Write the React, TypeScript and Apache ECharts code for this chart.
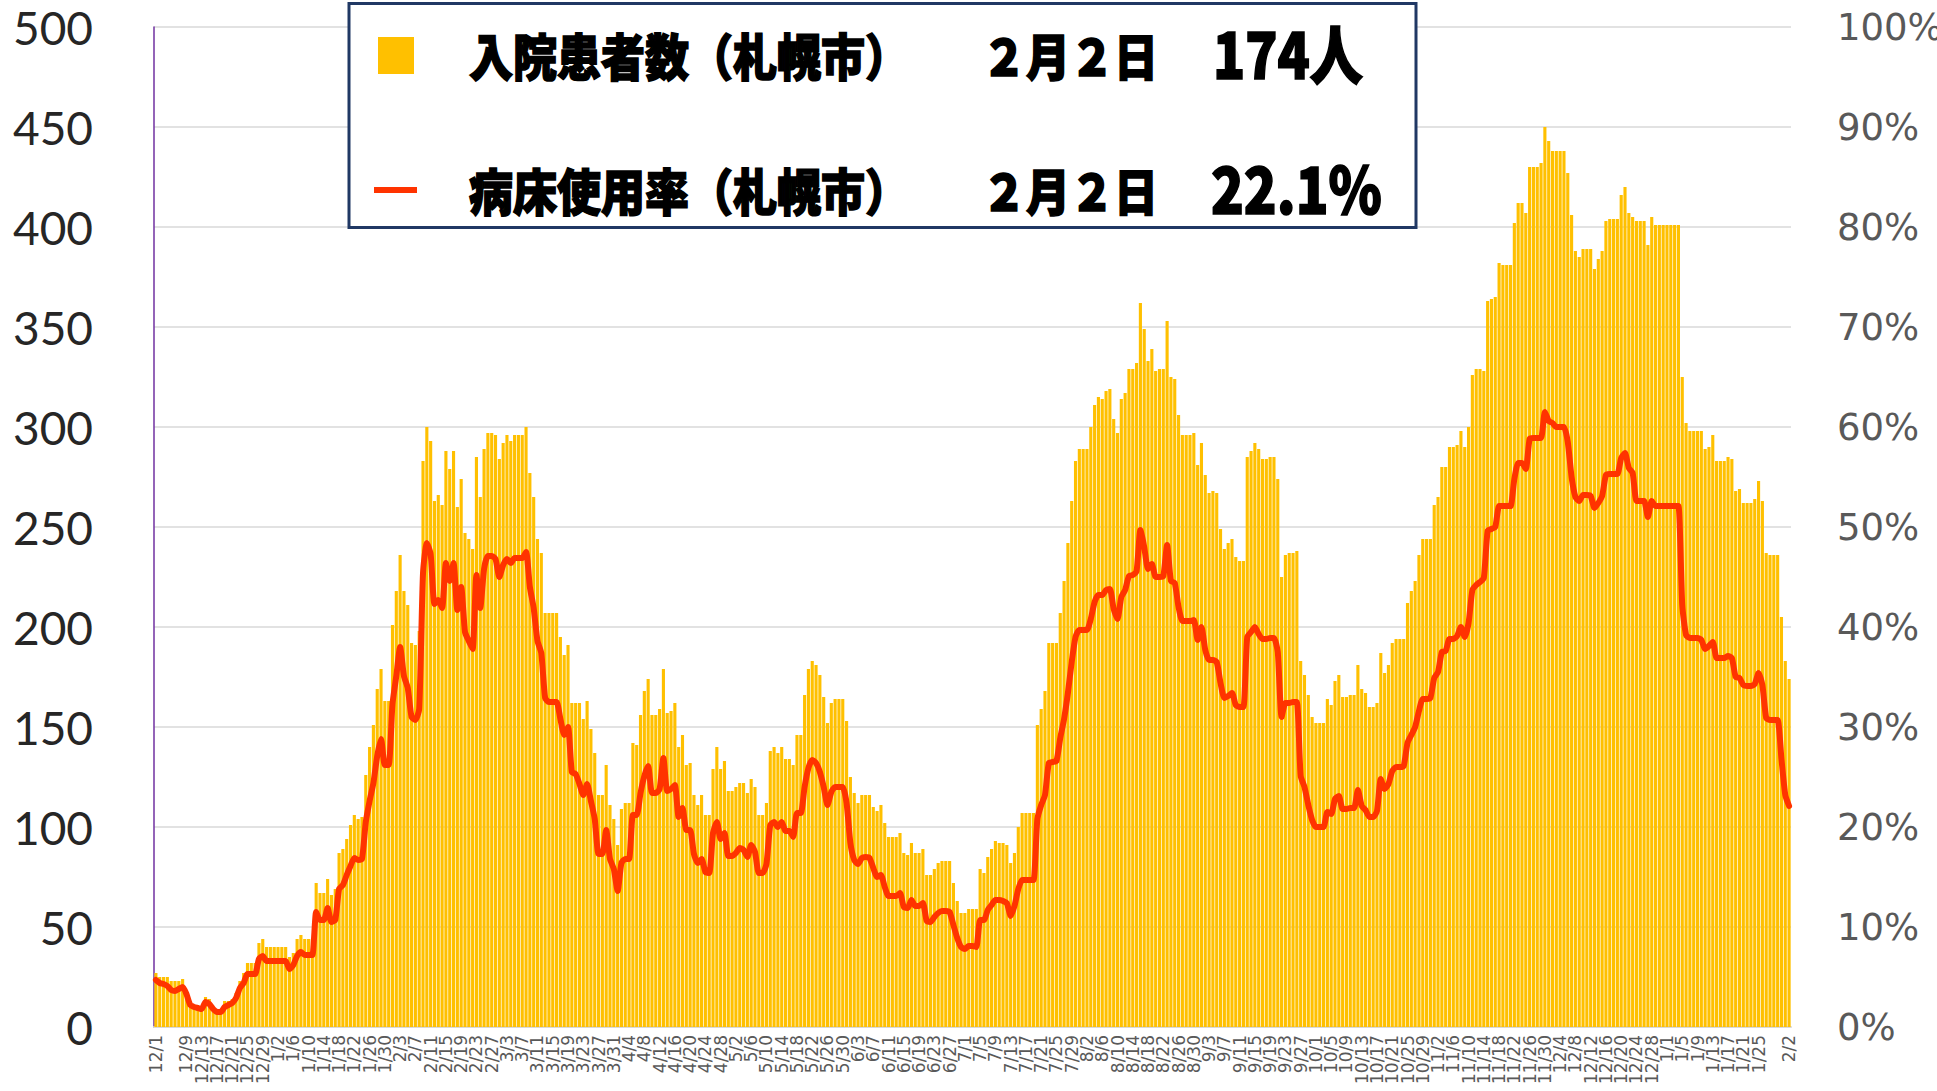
import { useEffect, useRef } from "react";
import * as echarts from "echarts";

// ---- categories: daily dates from 2020-12-01 to 2022-02-02 ----
const START_YEAR = 2020;
const START_MONTH = 12;
const START_DAY = 1;
const DAY_COUNT = 429;

function buildDates(): string[] {
  const out: string[] = [];
  const d = new Date(START_YEAR, START_MONTH - 1, START_DAY);
  for (let i = 0; i < DAY_COUNT; i++) {
    out.push(`${d.getMonth() + 1}/${d.getDate()}`);
    d.setDate(d.getDate() + 1);
  }
  return out;
}
const dates = buildDates();

// ---- 入院患者数（札幌市） ----
const patients = [
  27, 25, 25, 25, 23, 23, 23, 24, 18, 11,
  11, 10, 10, 15, 14, 8, 7, 8, 13, 13,
  14, 17, 23, 27, 32, 32, 32, 42, 44, 40,
  40, 40, 40, 40, 40, 35, 37, 44, 46, 44,
  44, 44, 72, 67, 67, 74, 66, 69, 87, 89,
  94, 101, 106, 104, 105, 126, 140, 151, 169, 179,
  163, 163, 201, 218, 236, 218, 211, 192, 191, 198,
  283, 300, 293, 263, 266, 261, 288, 279, 288, 260,
  274, 247, 244, 239, 285, 265, 289, 297, 297, 296,
  284, 292, 296, 293, 296, 296, 296, 300, 277, 265,
  244, 237, 207, 207, 207, 207, 195, 186, 191, 162,
  162, 162, 154, 163, 149, 137, 116, 116, 131, 111,
  104, 91, 109, 112, 112, 142, 141, 156, 168, 174,
  156, 156, 159, 179, 157, 158, 162, 140, 146, 131,
  132, 116, 111, 116, 106, 106, 129, 140, 129, 133,
  118, 118, 120, 122, 122, 117, 124, 120, 106, 106,
  112, 138, 140, 137, 140, 134, 134, 131, 146, 146,
  166, 179, 183, 181, 176, 165, 152, 162, 164, 164,
  164, 153, 125, 117, 112, 116, 116, 116, 110, 108,
  111, 102, 95, 95, 95, 97, 87, 86, 92, 87,
  87, 89, 76, 76, 79, 82, 83, 83, 83, 72,
  63, 57, 57, 59, 59, 59, 79, 77, 85, 89,
  93, 92, 92, 91, 82, 87, 100, 107, 107, 107,
  107, 151, 159, 168, 192, 192, 192, 207, 223, 242,
  263, 283, 289, 289, 289, 300, 311, 315, 314, 318,
  319, 304, 297, 314, 317, 329, 329, 332, 362, 349,
  333, 339, 328, 329, 329, 353, 325, 324, 306, 296,
  296, 296, 297, 281, 292, 276, 267, 268, 267, 249,
  239, 242, 244, 235, 233, 233, 285, 288, 292, 289,
  284, 284, 285, 285, 274, 225, 236, 237, 237, 238,
  183, 176, 166, 155, 152, 152, 152, 164, 161, 173,
  176, 165, 165, 166, 166, 181, 169, 167, 160, 160,
  162, 187, 177, 181, 192, 194, 194, 194, 212, 218,
  223, 236, 244, 244, 244, 261, 265, 280, 280, 290,
  290, 291, 298, 290, 300, 326, 329, 329, 328, 363,
  364, 365, 382, 381, 381, 381, 402, 412, 412, 407,
  430, 430, 430, 432, 450, 443, 438, 438, 438, 438,
  427, 406, 388, 385, 389, 389, 389, 379, 384, 388,
  403, 404, 404, 404, 416, 420, 407, 405, 403, 403,
  403, 391, 405, 401, 401, 401, 401, 401, 401, 401,
  325, 302, 298, 298, 298, 298, 289, 290, 296, 283,
  283, 283, 285, 284, 268, 269, 262, 262, 262, 264,
  273, 263, 237, 236, 236, 236, 205, 183, 174,
];

// ---- 病床使用率（札幌市） % ----
const bedRate = [
  4.7, 4.4, 4.3, 4.1, 3.7, 3.6, 3.8, 4.0, 3.3, 2.2,
  2.0, 1.9, 1.8, 2.5, 2.3, 1.8, 1.5, 1.5, 2.0, 2.2,
  2.4, 2.9, 3.9, 4.4, 5.3, 5.3, 5.3, 6.8, 7.1, 6.6,
  6.6, 6.6, 6.6, 6.6, 6.6, 5.8, 6.2, 7.1, 7.5, 7.2,
  7.2, 7.2, 11.5, 10.7, 10.7, 11.9, 10.5, 10.7, 13.8, 14.2,
  15.2, 16.1, 16.9, 16.7, 16.8, 20.5, 22.6, 24.4, 27.1, 28.8,
  26.2, 26.2, 32.3, 35.1, 38.0, 35.1, 33.9, 31.0, 30.7, 31.8,
  45.4, 48.4, 47.3, 42.3, 42.7, 41.9, 46.4, 44.6, 46.4, 41.7,
  44.0, 39.5, 38.6, 37.8, 45.2, 41.9, 45.8, 47.1, 47.1, 46.8,
  45.0, 46.2, 46.8, 46.4, 46.9, 46.9, 46.9, 47.5, 44.0, 41.9,
  38.6, 37.4, 32.9, 32.5, 32.5, 32.5, 30.8, 29.2, 30.0, 25.5,
  25.3, 24.3, 23.2, 24.3, 22.6, 20.8, 17.3, 17.3, 19.7, 16.8,
  15.8, 13.6, 16.4, 16.8, 16.8, 21.2, 21.2, 23.4, 25.1, 26.1,
  23.4, 23.4, 23.8, 26.9, 23.6, 23.8, 24.2, 21.0, 21.9, 19.7,
  19.7, 17.3, 16.4, 16.8, 15.5, 15.4, 19.4, 20.5, 18.8, 19.4,
  17.1, 17.1, 17.4, 17.9, 17.7, 17.0, 18.2, 17.5, 15.4, 15.4,
  16.3, 20.2, 20.5, 20.0, 20.5, 19.6, 19.6, 19.0, 21.4, 21.4,
  24.0, 25.9, 26.7, 26.4, 25.5, 24.0, 22.2, 23.5, 24.0, 24.0,
  24.0, 22.4, 18.4, 16.7, 16.3, 16.9, 17.0, 16.9, 15.9, 15.0,
  15.2, 14.0, 13.1, 13.1, 13.1, 13.4, 12.0, 11.9, 12.7, 12.1,
  12.1, 12.4, 10.6, 10.5, 11.0, 11.4, 11.6, 11.6, 11.5, 10.2,
  8.9, 8.0, 7.8, 8.1, 8.1, 8.0, 10.7, 10.7, 11.7, 12.2,
  12.7, 12.7, 12.6, 12.4, 11.1, 12.1, 13.8, 14.7, 14.7, 14.7,
  14.7, 20.8, 22.2, 23.2, 26.4, 26.5, 26.6, 28.9, 30.8, 33.4,
  36.5, 39.0, 39.7, 39.7, 39.7, 40.8, 42.5, 43.2, 43.2, 43.7,
  43.8, 41.8, 40.8, 43.0, 43.7, 45.1, 45.2, 45.6, 49.7, 48.0,
  45.8, 46.3, 45.0, 45.0, 45.1, 48.2, 44.6, 44.4, 42.0, 40.6,
  40.6, 40.6, 40.7, 38.7, 40.0, 37.7, 36.7, 36.7, 36.5, 34.4,
  32.9, 33.1, 33.4, 32.2, 32.0, 32.0, 39.0, 39.5, 40.0, 39.3,
  38.8, 38.8, 38.9, 38.9, 37.5, 31.0, 32.4, 32.4, 32.5, 32.5,
  25.1, 24.0, 22.2, 20.7, 20.0, 20.0, 20.0, 21.5, 21.3, 22.8,
  23.1, 21.8, 21.8, 21.9, 21.9, 23.7, 22.1, 21.7, 21.0, 21.0,
  21.6, 24.8, 23.8, 24.3, 25.6, 26.0, 26.0, 26.1, 28.4, 29.2,
  30.0, 31.6, 32.8, 32.8, 32.9, 34.9, 35.5, 37.5, 37.6, 38.8,
  38.8, 39.1, 40.0, 39.0, 40.4, 43.7, 44.2, 44.5, 44.9, 49.6,
  49.8, 50.0, 52.1, 52.1, 52.1, 52.1, 54.8, 56.4, 56.4, 55.8,
  58.8, 58.9, 58.9, 58.9, 61.5, 60.6, 60.4, 60.0, 60.0, 60.0,
  58.5, 55.0, 53.0, 52.6, 53.2, 53.2, 53.1, 51.9, 52.4, 53.1,
  55.2, 55.3, 55.3, 55.3, 56.9, 57.4, 55.9, 55.4, 52.6, 52.6,
  52.6, 51.0, 52.6, 52.1, 52.1, 52.1, 52.1, 52.1, 52.1, 52.1,
  42.2, 39.2, 38.9, 38.9, 38.9, 38.7, 37.8, 38.1, 38.5, 36.9,
  36.9, 36.9, 37.1, 36.9, 35.0, 34.9, 34.2, 34.1, 34.1, 34.3,
  35.4, 34.2, 30.9, 30.7, 30.7, 30.7, 26.8, 23.2, 22.1,
];

// ---- legend texts ----
const LEGEND_PATIENTS = "入院患者数（札幌市）";
const LEGEND_RATE = "病床使用率（札幌市）";
const LEGEND_DATE = "２月２日";
const LEGEND_PATIENTS_VALUE = "174人";
const LEGEND_RATE_VALUE = "22.1%";

const BAR_COLOR = "#ffc000";
const LINE_COLOR = "#ff3300";
const JP_FONT = '"Noto Sans CJK JP", "Noto Sans CJK SC", sans-serif';

export default function App() {
  const ref = useRef<HTMLDivElement>(null);

  useEffect(() => {
    if (!ref.current) return;
    const chart = echarts.init(ref.current, undefined, { renderer: "svg" });

    const legendText = (text: string, x: number, y: number, size: number, sy: number) => ({
      type: "text",
      x,
      y,
      scaleY: sy,
      z: 102,
      style: {
        text,
        x: 0,
        y: 0,
        font: `900 ${size}px ${JP_FONT}`,
        fill: "#000000",
        stroke: "#000000",
        lineWidth: 1.4,
        textAlign: "left",
        textVerticalAlign: "middle",
        align: "left",
        verticalAlign: "middle",
      },
    });

    chart.setOption({
      animation: false,
      backgroundColor: "#ffffff",
      grid: {
        left: 154,
        right: 146,
        top: 27,
        bottom: 64,
        containLabel: false,
        outerBoundsMode: "none",
      },
      xAxis: {
        type: "category",
        data: dates,
        boundaryGap: true,
        axisLine: { show: true, lineStyle: { color: "#d9d9d9", width: 2 } },
        axisTick: { show: false },
        axisLabel: {
          interval: 3,
          rotate: 90,
          margin: 8,
          fontSize: 17,
          fontFamily: "DejaVu Sans",
          color: "#595959",
          showMinLabel: true,
          showMaxLabel: true,
          hideOverlap: false,
        },
        splitLine: { show: false },
      },
      yAxis: [
        {
          type: "value",
          min: 0,
          max: 500,
          interval: 50,
          position: "left",
          axisLine: { show: true, lineStyle: { color: "#7030a0", width: 1.5 } },
          axisTick: { show: false },
          axisLabel: {
            margin: 61,
            fontSize: 46,
            fontFamily: "Lato",
            color: "#262626",
          },
          splitLine: { show: true, lineStyle: { color: "#d9d9d9", width: 1.5 } },
        },
        {
          type: "value",
          min: 0,
          max: 100,
          interval: 10,
          position: "right",
          axisLine: { show: false },
          axisTick: { show: false },
          axisLabel: {
            margin: 46,
            fontSize: 37,
            fontFamily: "DejaVu Sans",
            color: "#595959",
            formatter: "{value}%",
          },
          splitLine: { show: false },
        },
      ],
      series: [
        {
          name: LEGEND_PATIENTS,
          type: "bar",
          data: patients,
          yAxisIndex: 0,
          barCategoryGap: "18%",
          itemStyle: { color: BAR_COLOR },
          z: 2,
        },
        {
          name: LEGEND_RATE,
          type: "line",
          data: bedRate,
          yAxisIndex: 1,
          smooth: 0.2,
          showSymbol: false,
          symbol: "none",
          lineStyle: { color: LINE_COLOR, width: 6, cap: "round", join: "round" },
          z: 3,
        },
      ],
      graphic: [
        {
          type: "rect",
          z: 100,
          shape: { x: 349, y: 3.5, width: 1067, height: 224 },
          style: { fill: "#ffffff", stroke: "#203864", lineWidth: 3 },
        },
        {
          type: "rect",
          z: 101,
          shape: { x: 378, y: 37, width: 36, height: 37 },
          style: { fill: BAR_COLOR },
        },
        {
          type: "rect",
          z: 101,
          shape: { x: 374, y: 187, width: 43, height: 6 },
          style: { fill: LINE_COLOR },
        },
        legendText(LEGEND_PATIENTS, 469, 55, 44, 1.13),
        legendText(LEGEND_DATE, 982, 55, 44, 1.13),
        legendText(LEGEND_PATIENTS_VALUE, 1213, 51, 53, 1.2),
        legendText(LEGEND_RATE, 469, 190, 44, 1.13),
        legendText(LEGEND_DATE, 982, 190, 44, 1.13),
        legendText(LEGEND_RATE_VALUE, 1211, 186, 54, 1.2),
      ],
    });

    return () => {
      chart.dispose();
    };
  }, []);

  return (
    <div
      ref={ref}
      style={{ position: "fixed", left: 0, top: 0, width: "1937px", height: "1091px" }}
    />
  );
}
